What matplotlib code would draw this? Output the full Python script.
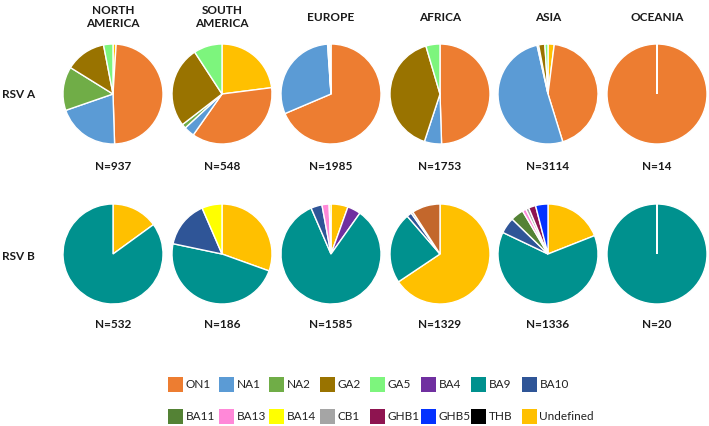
import matplotlib
matplotlib.use("Agg")
import matplotlib.pyplot as plt
from matplotlib.patches import Rectangle

plt.rcParams['font.family'] = ['Lato', 'DejaVu Sans']

# --- data (percent of sequences) ---
regions = ['NORTH\nAMERICA', 'SOUTH\nAMERICA', 'EUROPE', 'AFRICA', 'ASIA', 'OCEANIA']
rsv_a_n = [937, 548, 1985, 1753, 3114, 14]
rsv_b_n = [532, 186, 1585, 1329, 1336, 20]

# RSV A genotypes, in drawing order (clockwise from 12 o'clock)
a_genotypes = ['Undefined', 'ON1', 'NA1', 'NA2', 'GA2', 'GA5']
a_north_america = [1.0, 48.0, 20.0, 14.0, 13.0, 3.0]
a_south_america = [23.0, 36.8, 3.4, 1.4, 26.3, 9.2]
a_europe = [0.0, 68.6, 30.3, 0.3, 0.3, 0.5]
a_africa = [0.0, 49.0, 5.5, 0.0, 40.0, 4.5]
a_asia = [2.0, 43.0, 51.0, 0.5, 2.0, 1.0]
a_oceania = [0.0, 100.0, 0.0, 0.0, 0.0, 0.0]

# RSV B genotypes, in drawing order
b_genotypes = ['Undefined', 'BA4', 'BA9', 'BA10', 'BA11', 'BA13', 'BA14',
               'CB1', 'GHB1', 'GHB5', 'THB', 'Other']
b_north_america = [15.0, 0, 85.0, 0, 0, 0, 0, 0, 0, 0, 0, 0]
b_south_america = [30.5, 0, 47.8, 15.2, 0, 0, 6.5, 0, 0, 0, 0, 0]
b_europe = [5.5, 4.3, 83.7, 3.6, 0, 2.3, 0.6, 0, 0, 0, 0, 0]
b_africa = [61.8, 0, 21.7, 1.5, 0, 0, 0, 0.6, 0, 0, 0, 8.6]
b_asia = [19.0, 0, 63.0, 5.2, 4.2, 1.2, 0, 1.0, 2.3, 4.0, 0, 0]
b_oceania = [0, 0, 100.0, 0, 0, 0, 0, 0, 0, 0, 0, 0]

rsv_a = [a_north_america, a_south_america, a_europe, a_africa, a_asia, a_oceania]
rsv_b = [b_north_america, b_south_america, b_europe, b_africa, b_asia, b_oceania]

colors = {
    'ON1': '#ED7D31', 'NA1': '#5B9BD5', 'NA2': '#70AD47', 'GA2': '#997300',
    'GA5': '#7DF57D', 'BA4': '#7030A0', 'BA9': '#00918E', 'BA10': '#2F5597',
    'BA11': '#548235', 'BA13': '#FF88D8', 'BA14': '#FFFF00', 'CB1': '#A5A5A5',
    'GHB1': '#8E1450', 'GHB5': '#0432FF', 'THB': '#000000',
    'Undefined': '#FFC000', 'Other': '#C3672C',
}
legend_rows = [['ON1', 'NA1', 'NA2', 'GA2', 'GA5', 'BA4', 'BA9', 'BA10'],
               ['BA11', 'BA13', 'BA14', 'CB1', 'GHB1', 'GHB5', 'THB', 'Undefined']]

# --- layout (pixels on a 709x426 canvas) ---
W, H = 709, 426
col_x = [113, 222, 331, 440, 548, 657]
row_y = [94, 254]
radius = 50
n_label_y = [167, 325]
row_label_y = [94, 256]


def fx(x):
    return x / W


def fy(y):
    return 1 - y / H


fig = plt.figure(figsize=(W / 100, H / 100), dpi=100)
fig.patch.set_facecolor('white')


def draw_pie(values, labels, cx, cy):
    ax = fig.add_axes([fx(cx - radius), fy(cy + radius), 2 * radius / W, 2 * radius / H])
    keep = [(v, l) for v, l in zip(values, labels) if v > 0]
    vals = [v for v, _ in keep]
    cols = [colors[l] for _, l in keep]
    wedges, _ = ax.pie(vals, colors=cols, startangle=90, counterclock=False,
                       wedgeprops=dict(edgecolor='white', linewidth=1.0))
    if len(wedges) == 1:
        # keep the seam from 12 o'clock to the centre, as in the original
        wedges[0].set_theta1(wedges[0].theta1 + 0.01)
    ax.set_xlim(-1.0, 1.0)
    ax.set_ylim(-1.0, 1.0)
    ax.set_aspect('equal')
    ax.axis('off')


for i, region in enumerate(regions):
    draw_pie(rsv_a[i], a_genotypes, col_x[i], row_y[0])
    draw_pie(rsv_b[i], b_genotypes, col_x[i], row_y[1])
    title_y = 5 if '\n' in region else 12
    fig.text(fx(col_x[i]), fy(title_y), region, ha='center', va='top',
             fontsize=8.5, fontweight='bold', color='#1a1a1a', linespacing=1.25)
    fig.text(fx(col_x[i]), fy(n_label_y[0]), f'N={rsv_a_n[i]}', ha='center',
             va='center', fontsize=8.5, fontweight='bold', color='#1a1a1a')
    fig.text(fx(col_x[i]), fy(n_label_y[1]), f'N={rsv_b_n[i]}', ha='center',
             va='center', fontsize=8.5, fontweight='bold', color='#1a1a1a')

for label, y in zip(['RSV A', 'RSV B'], row_label_y):
    fig.text(fx(2), fy(y), label, ha='left', va='center', fontsize=8.5,
             fontweight='bold', color='#1a1a1a')

# --- legend (two rows of eight) ---
legend_x0, legend_dx = 168, 50.5
legend_y = [384, 416]
box = 15
for r, names in enumerate(legend_rows):
    for c, name in enumerate(names):
        x = legend_x0 + c * legend_dx
        fig.patches.append(Rectangle((fx(x), fy(legend_y[r] + box / 2)), box / W, box / H,
                                     transform=fig.transFigure, facecolor=colors[name],
                                     edgecolor='none'))
        fig.text(fx(x + box + 3), fy(legend_y[r]), name, ha='left', va='center',
                 fontsize=8.5, color='#222222')

fig.savefig('out.png', dpi=100, facecolor='white')
